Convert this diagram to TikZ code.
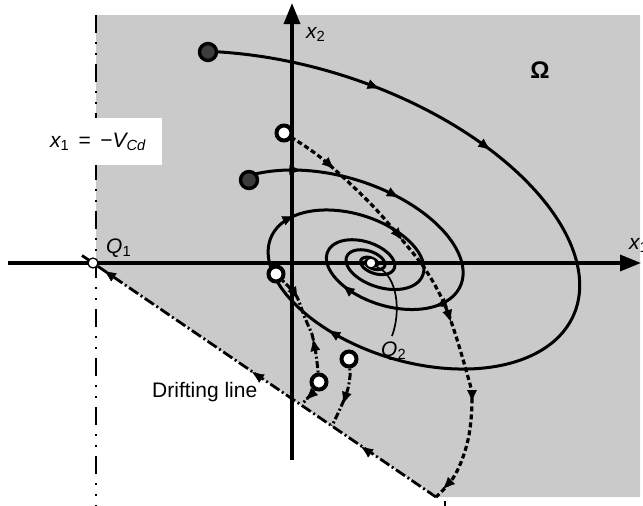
\documentclass[tikz,border=0pt]{standalone}
\usepackage{fontspec}
\setmainfont{Liberation Sans}
\usetikzlibrary{arrows.meta,decorations.markings}
\definecolor{regiongray}{RGB}{202,202,202}
\definecolor{dotgray}{RGB}{60,60,60}
\begin{document}
\begin{tikzpicture}[x=1pt,y=-1pt,
  axis/.style={line width=3.4pt,-{Triangle[length=21pt,width=16pt]}},
  traj/.style={line width=3pt},
  dashtraj/.style={line width=3.2pt,dash pattern=on 5pt off 3pt},
  ddtraj/.style={line width=3pt,dash pattern=on 7pt off 2.5pt on 2pt off 2.5pt},
  drift/.style={line width=2.8pt,dash pattern=on 11pt off 3pt on 2pt off 3pt},
  bound/.style={line width=2.6pt,dash pattern=on 18pt off 9pt on 2pt off 9pt on 2pt off 9pt},
  tipat/.style={decorate,decoration={markings,mark=at position 1 with {\arrow{Latex[length=12pt,width=10pt]}}}},
  opendot/.style={circle,draw=black,fill=white,line width=4pt,minimum size=15pt,inner sep=0pt},
  fulldot/.style={circle,draw=black,fill=dotgray,line width=3.4pt,minimum size=17pt,inner sep=0pt},
  eqdot/.style={circle,draw=black,fill=white,line width=1.3pt,minimum size=10pt,inner sep=0pt},
  lbl/.style={font=\fontsize{21}{25}\selectfont,inner sep=0pt}
]
\useasboundingbox (0,0) rectangle (643,506);
% region Omega
\fill[regiongray] (96,15) -- (640,15) -- (640,497) -- (436,497) -- (93,263) -- (96,263) -- cycle;
% boundary x1 = -V_Cd
\draw[bound] (96,15) -- (96,506);
\fill[white] (0,118) rectangle (162,165);
\node[lbl,anchor=base west] (vcd) at (50,147) {\itshape x\textsubscript{\upshape 1}\upshape\ \,=\ \,−\itshape V\textsubscript{Cd}};
% axes
\coordinate (xa0) at (8,263);
\coordinate (xa1) at (641,263);
\coordinate (ya0) at (292,460);
\coordinate (ya1) at (292,3);
\draw[axis] (xa0) -- (xa1);
\draw[axis] (ya0) -- (ya1);
% drifting line
\coordinate (dstart) at (82,255.5);
\coordinate (dend) at (436,497);
\draw[drift] (dstart) -- (dend);
\foreach \px/\py in {104/270.6, 252/371.9, 361/446.6}{
  \path[tipat] (\px+3,\py+2.05) -- (\px,\py);
}
\draw[line width=2.4pt] (445,501) -- (445,506);
% spiral trajectory A
\draw[traj] plot[domain=-1.74:19, samples=700, variable=\t]
  ({372+207*exp(-0.2206*(\t+1.5708))*(1.4*cos(\t r)+0.55*sin(\t r))},
   {263+207*exp(-0.2206*(\t+1.5708))*sin(\t r)});
% spiral trajectory B
\draw[traj] plot[domain=-2.15:17, samples=600, variable=\t]
  ({372+90.8*exp(-0.2206*(\t+1.5708))*(1.4*cos(\t r)+0.55*sin(\t r))},
   {263+90.8*exp(-0.2206*(\t+1.5708))*sin(\t r)});
% arrows on spirals
\foreach \R/\t in {207/-1.17, 207/-0.72, 207/2.28, 207/4.05, 90.8/-1.72, 90.8/-0.97, 90.8/1.0, 90.8/2.5}{
  \pgfmathsetmacro\ra{\R*exp(-0.2206*(\t+1.5708))}
  \pgfmathsetmacro\xa{372+\ra*(1.4*cos(\t r)+0.55*sin(\t r))}
  \pgfmathsetmacro\ya{263+\ra*sin(\t r)}
  \pgfmathsetmacro\tb{\t-0.04}
  \pgfmathsetmacro\rb{\R*exp(-0.2206*(\tb+1.5708))}
  \pgfmathsetmacro\xb{372+\rb*(1.4*cos(\tb r)+0.55*sin(\tb r))}
  \pgfmathsetmacro\yb{263+\rb*sin(\tb r)}
  \path[tipat] (\xb,\yb) -- (\xa,\ya);
}
% dashed trajectory from upper open dot
\draw[dashtraj] plot[smooth,tension=0.6] coordinates {(284,133) (320,157) (367,200) (398,235) (427,272) (448,313) (468,377) (472,400) (468,440) (455,475) (436,497)};
\path[tipat] (330,165.3) -- (334,169);
\path[tipat] (399,236) -- (402,240);
\path[tipat] (449,316) -- (451,322);
\path[tipat] (472,397) -- (472,402);
\path[tipat] (447,485) -- (443,489);
% dash-dot trajectories
\draw[ddtraj] plot[smooth] coordinates {(276,274) (287,285) (297,297) (305,318) (312,334)};
\path[tipat] (295,294) -- (298,299);
\draw[ddtraj] plot[smooth] coordinates {(319,382) (317,362) (315,348) (312,334)};
\path[tipat] (314,344) -- (313,339);
\draw[ddtraj] plot[smooth] coordinates {(319,382) (312,393) (302,404)};
\path[tipat] (309,397) -- (306,400);
\draw[ddtraj] plot[smooth] coordinates {(349,359) (350,376) (346,395) (332,426)};
\path[tipat] (345,398) -- (343,404);
% Q2 pointer
\coordinate (q2p) at (377,267);
\node[lbl,anchor=base west] (q2) at (381,356) {\itshape Q\textsubscript{\upshape 2}};
\draw[line width=1.7pt] (q2p) .. controls (398,276) and (401,312) .. (392,336);
% dots
\node[fulldot] (a0) at (208,52) {};
\node[fulldot] (b0) at (249,180) {};
\node[opendot] (c1) at (284,133) {};
\node[opendot] (c2) at (276,274) {};
\node[opendot] (c3) at (319,382) {};
\node[opendot] (c4) at (349,359) {};
\node[eqdot] (q1dot) at (93,263) {};
\node[eqdot] (q2dot) at (371,263) {};
% labels
\node[lbl,anchor=base west] (q1) at (106,253) {\itshape Q\textsubscript{\upshape 1}};
\node[lbl,anchor=base west] (x2l) at (306,38) {\itshape x\textsubscript{\upshape 2}};
\node[lbl,anchor=base west] (x1l) at (629,249) {\itshape x\textsubscript{\upshape 1}};
\node[lbl,anchor=base west] (drl) at (152,397) {Drifting line};
\node[font=\fontsize{24}{28}\selectfont\bfseries,inner sep=0pt] (om) at (540,70) {Ω};
\end{tikzpicture}
\end{document}
